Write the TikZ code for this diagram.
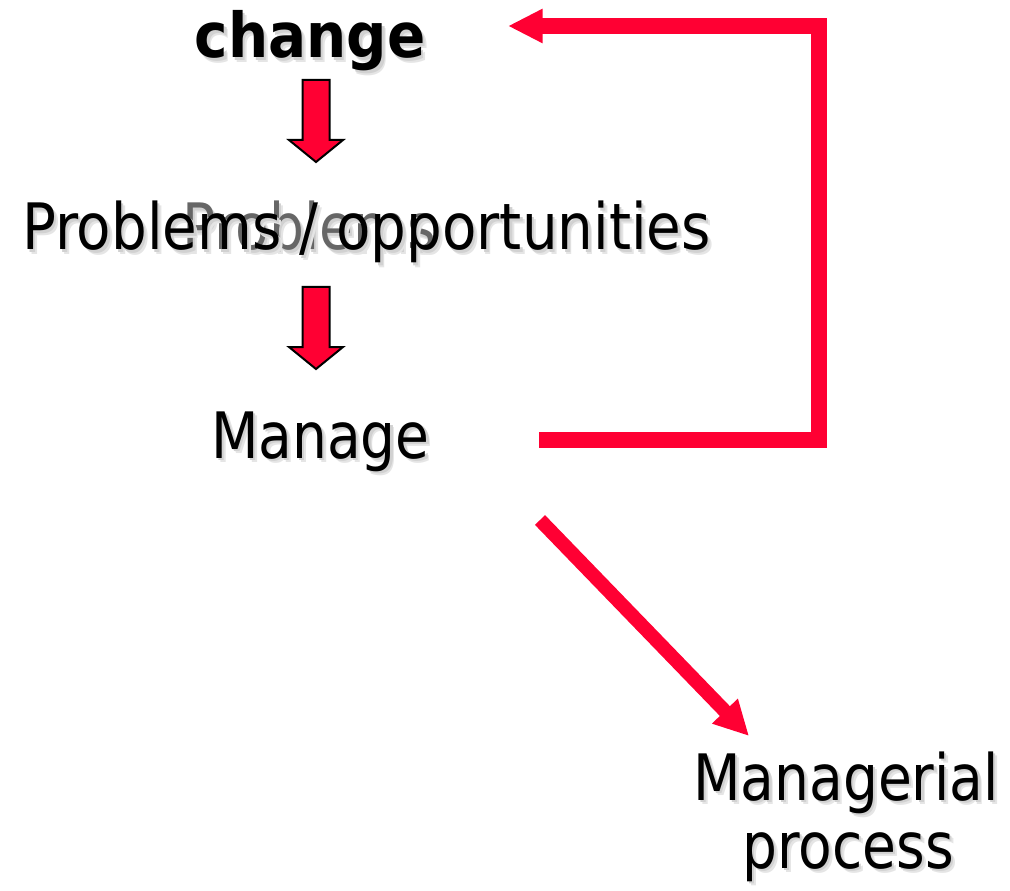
\documentclass[tikz,border=0pt]{standalone}
\usepackage{graphicx}
\usepackage{fontspec}
\setmainfont{DejaVu Sans}
\usepackage{tikz}
\usetikzlibrary{arrows.meta}

\definecolor{signalred}{RGB}{255,0,51}
\newcommand{\shadowed}[1]{%
  \makebox[0pt][l]{\hspace{3.5pt}\raisebox{-3.5pt}{\color{black!10}#1}}%
  \makebox[0pt][l]{\hspace{2pt}\raisebox{-2pt}{\color{black!18}#1}}#1}
\newcommand{\squeeze}[2][0.86]{\scalebox{#1}[1]{\shadowed{#2}}}

\begin{document}
\begin{tikzpicture}[
  x=0.75pt, y=-0.75pt,
  every node/.style={inner sep=0, outer sep=0},
  word/.style={font=\fontsize{48}{52}\selectfont, anchor=base west},
  title/.style={font=\fontsize{46.5}{50}\selectfont\bfseries, anchor=base},
  blockarrow/.style={fill=signalred, draw=black, line width=1.5pt, line join=miter},
  feedback/.style={draw=signalred, line width=12pt, line join=miter,
    -{Triangle[length=26pt, width=24pt]}},
  outflow/.style={draw=signalred, line width=10.5pt,
    -{Triangle[length=26pt, width=25pt]}},
  downarrow/.pic={
    \draw[blockarrow] (-13.5,0) -- (13.5,0) -- (13.5,60) -- (27,60)
      -- (0,82) -- (-27,60) -- (-13.5,60) -- cycle;
  }
]
\useasboundingbox (0,0) rectangle (1010,891);

\node[title] (change) at (310,58) {\squeeze[0.91]{change}};
\node[word, text=black!60] (ghost) at (182,250) {\squeeze{Problems}};
\node[word] (problems) at (22,250) {\squeeze[0.88]{Problems / opportunities}};
\node[word] (manage) at (211,458) {\squeeze{Manage}};
\node[word, anchor=base] (managerial) at (846,800) {\squeeze{Managerial}};
\node[word, anchor=base] (process) at (848,868) {\squeeze{process}};

\coordinate (firststep) at (316,80);
\coordinate (secondstep) at (316,287);
\coordinate (loopstart) at (539,440);
\coordinate (loopbottom) at (819,440);
\coordinate (looptop) at (819,26);
\coordinate (loopend) at (508,26);
\coordinate (outstart) at (540,520);
\coordinate (outend) at (749,736);

\pic at (firststep) {downarrow};
\pic at (secondstep) {downarrow};

\draw[feedback] (loopstart) -- (loopbottom) -- (looptop) -- (loopend);
\draw[outflow] (outstart) -- (outend);

\end{tikzpicture}
\end{document}
